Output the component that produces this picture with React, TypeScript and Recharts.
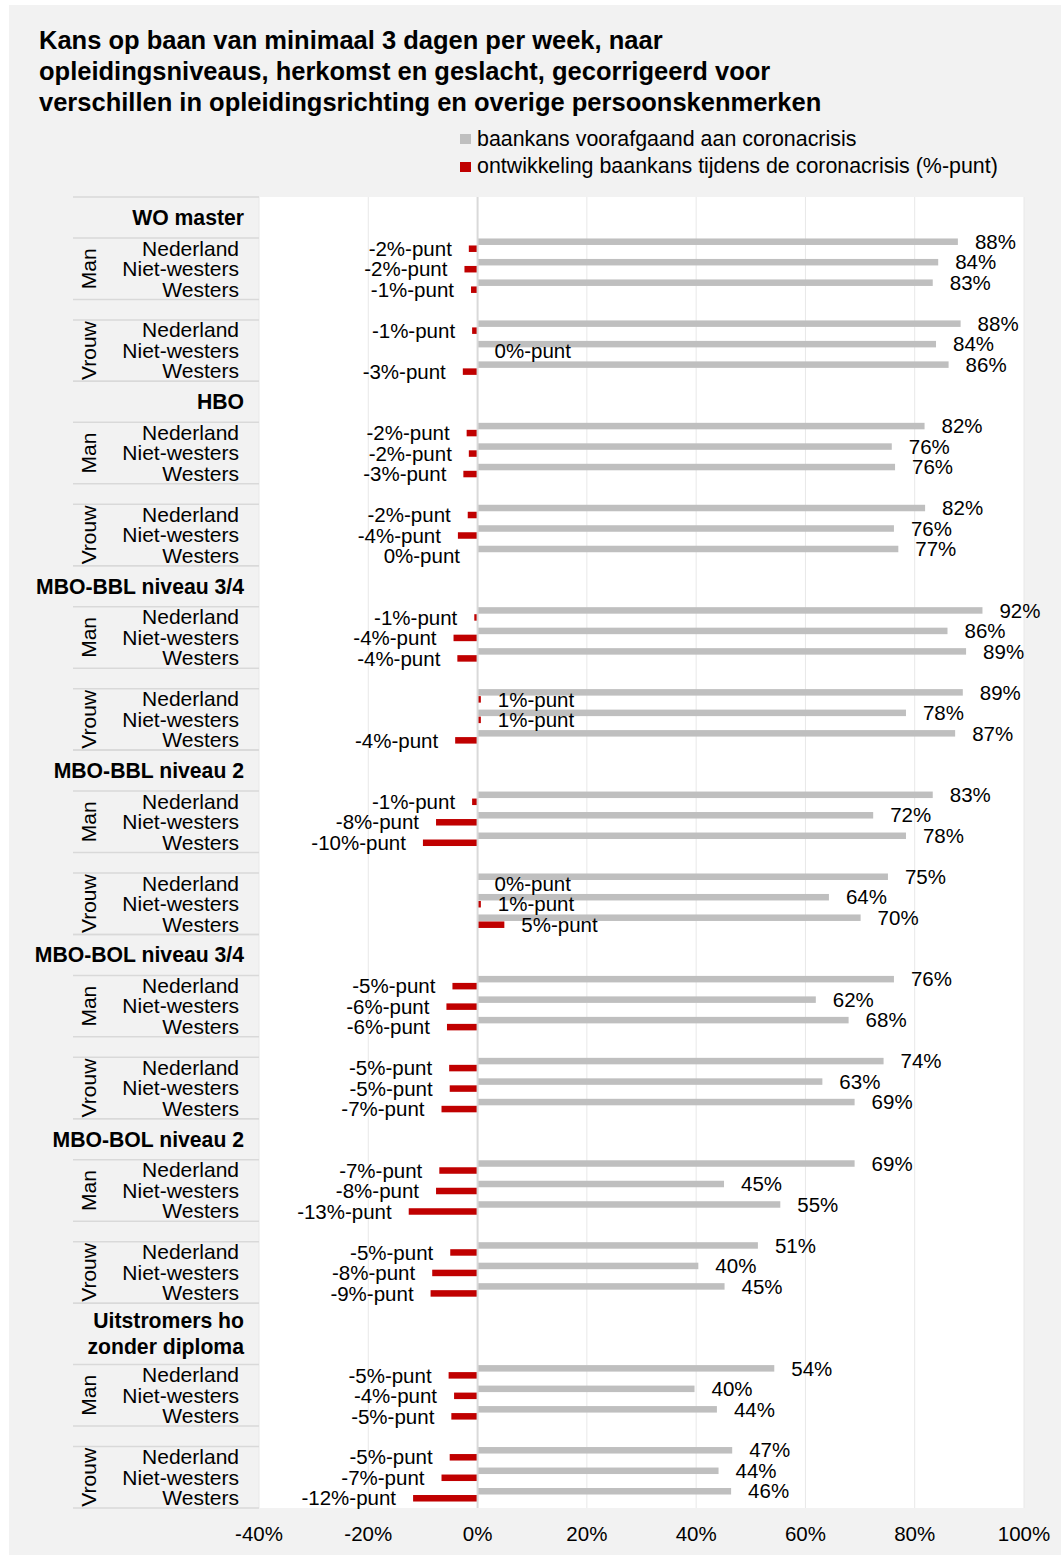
import React from 'react';
import { BarChart, Bar, XAxis, YAxis, CartesianGrid, ReferenceLine } from 'recharts';

// ---------- data ----------
const groupLabels: string[][] = [
  ['WO master'],
  ['HBO'],
  ['MBO-BBL niveau 3/4'],
  ['MBO-BBL niveau 2'],
  ['MBO-BOL niveau 3/4'],
  ['MBO-BOL niveau 2'],
  ['Uitstromers ho', 'zonder diploma'],
];
const genders = ['Man', 'Vrouw'];
const origins = ['Nederland', 'Niet-westers', 'Westers'];
const xTicks = [-40, -20, 0, 20, 40, 60, 80, 100];

// per group: Man (Nederland, Niet-westers, Westers), Vrouw (Nederland, Niet-westers, Westers)
const baankansVoor = [
  87.9, 84.3, 83.3, 88.4, 83.9, 86.2,
  81.8, 75.8, 76.4, 81.9, 76.2, 77.0,
  92.4, 86.0, 89.4, 88.8, 78.4, 87.4,
  83.3, 72.4, 78.4, 75.1, 64.3, 70.1,
  76.2, 61.9, 67.9, 74.3, 63.1, 69.0,
  69.0, 45.1, 55.4, 51.3, 40.4, 45.2,
  54.3, 39.7, 43.8, 46.6, 44.1, 46.4,
];
const ontwikkeling = [
  -1.6, -2.4, -1.2, -1.0, 0, -2.7,
  -2.0, -1.6, -2.6, -1.8, -3.6, -0.1,
  -0.6, -4.4, -3.7, 0.6, 0.6, -4.1,
  -1.0, -7.6, -10.0, 0, 0.6, 4.9,
  -4.6, -5.7, -5.6, -5.2, -5.1, -6.6,
  -7.0, -7.6, -12.6, -5.0, -8.3, -8.6,
  -5.3, -4.3, -4.8, -5.1, -6.6, -11.8,
];

const legendItems = [
  { label: 'baankans voorafgaand aan coronacrisis', color: '#bfbfbf' },
  { label: 'ontwikkeling baankans tijdens de coronacrisis (%-punt)', color: '#c00000' },
];
const titleLines = [
  'Kans op baan van minimaal 3 dagen per week, naar',
  'opleidingsniveaus, herkomst en geslacht, gecorrigeerd voor',
  'verschillen in opleidingsrichting en overige persoonskenmerken',
];

// ---------- rows ----------
type Row = {
  id: string;
  kind: 'head' | 'pad' | 'data' | 'blank';
  g: number;
  lines?: string[];
  slots?: number;
  gender?: number;
  origin?: number;
  voor: number | null;
  delta: number | null;
};
const rows: Row[] = [];
groupLabels.forEach((lines, g) => {
  const slots = lines.length + 1;
  for (let s = 0; s < slots; s++) {
    rows.push({ id: `g${g}h${s}`, kind: s === 0 ? 'head' : 'pad', g, lines, slots, voor: null, delta: null });
  }
  genders.forEach((_, gi) => {
    if (gi > 0) rows.push({ id: `g${g}b${gi}`, kind: 'blank', g, voor: null, delta: null });
    origins.forEach((_o, oi) => {
      const k = g * 6 + gi * 3 + oi;
      rows.push({ id: `g${g}-${gi}-${oi}`, kind: 'data', g, gender: gi, origin: oi, voor: baankansVoor[k], delta: ontwikkeling[k] });
    });
  });
});
const rowById: Record<string, Row> = {};
rows.forEach((r) => (rowById[r.id] = r));

// ---------- layout ----------
const FONT = '"Liberation Sans", Arial, Helvetica, sans-serif';
const CW = 1052;
const CH = 1550;
const M = { top: 192, right: 37, bottom: 0, left: 64 };
const YW = 186;
const XH = 47;
const PLOT_H = CH - M.top - M.bottom - XH;
const BAND = PLOT_H / rows.length;
const SEP_X1 = M.left;
const SEP_X2 = M.left + YW;
const ORIGIN_X = 230;
const HEAD_X = 235;
const GENDER_X = 79.5;
const SHIFT = -2.5;
const LABEL_GAP = 17;
const FS = 20.5;
const AXFS = 21;
const HEADFS = 21.2;
const SEP_COLOR = '#d9d9d9';

function Sep({ y }: { y: number }) {
  return <line x1={SEP_X1} x2={SEP_X2} y1={y} y2={y} stroke={SEP_COLOR} strokeWidth={1.5} />;
}

function YTick(props: any) {
  const { y, payload } = props;
  const row = rowById[payload?.value];
  if (!row) return null;
  const top = y - BAND / 2;
  const bottom = y + BAND / 2;
  if (row.kind === 'head') {
    const n = row.slots || 2;
    const cy = top + (n * BAND) / 2;
    const lines = row.lines || [];
    const lh = 26;
    return (
      <g>
        <Sep y={top} />
        <Sep y={top + n * BAND} />
        {lines.map((l, i) => (
          <text
            key={i}
            x={HEAD_X}
            y={cy + (i - (lines.length - 1) / 2) * lh}
            dy="0.35em"
            textAnchor="end"
            fontSize={HEADFS}
            fontWeight="bold"
            fill="#000"
            fontFamily={FONT}
          >
            {l}
          </text>
        ))}
      </g>
    );
  }
  if (row.kind === 'blank') {
    return <Sep y={bottom} />;
  }
  if (row.kind === 'data') {
    return (
      <g>
        <text x={ORIGIN_X} y={y} dy="0.35em" textAnchor="end" fontSize={AXFS} fill="#000" fontFamily={FONT}>
          {origins[row.origin!]}
        </text>
        {row.origin === 1 && (
          <text
            x={GENDER_X}
            y={y}
            dy="0.35em"
            textAnchor="middle"
            fontSize={AXFS}
            fill="#000"
            fontFamily={FONT}
            transform={`rotate(-90, ${GENDER_X}, ${y})`}
          >
            {genders[row.gender!]}
          </text>
        )}
        {row.origin === 2 && <Sep y={bottom} />}
      </g>
    );
  }
  return null;
}

function makeShape(key: 'voor' | 'delta', suffix: string) {
  return (props: any) => {
    const { x, y, width, height, fill, payload } = props;
    const v = payload ? payload[key] : props.value;
    if (v == null || !isFinite(x) || !isFinite(y)) return <g />;
    const w0 = isFinite(width) ? width : 0;
    const left = Math.min(x, x + w0);
    const right = Math.max(x, x + w0);
    const w = Math.abs(w0);
    const yy = y + SHIFT;
    const cy = yy + height / 2;
    const neg = v < 0;
    const txt = `${Math.round(v)}${suffix}`;
    return (
      <g>
        {w > 0 && <rect x={left} y={yy} width={w} height={height} fill={fill} />}
        <text
          x={neg ? left - LABEL_GAP : right + LABEL_GAP}
          y={cy}
          dy="0.35em"
          textAnchor={neg ? 'end' : 'start'}
          fontSize={FS}
          fill="#000"
          fontFamily={FONT}
        >
          {txt}
        </text>
      </g>
    );
  };
}

const GrayShape = makeShape('voor', '%');
const RedShape = makeShape('delta', '%-punt');

export default function App() {
  return (
    <div
      style={{
        position: 'absolute',
        left: 9,
        top: 5,
        width: CW,
        height: CH,
        background: '#f2f2f2',
        fontFamily: FONT,
        color: '#000',
      }}
    >
      <div style={{ position: 'absolute', left: 30, top: 20, fontSize: 25.5, fontWeight: 'bold', lineHeight: '31px', whiteSpace: 'nowrap' }}>
        {titleLines.map((t, i) => (
          <div key={i}>{t}</div>
        ))}
      </div>
      <div style={{ position: 'absolute', left: 451, top: 120.5 }}>
        {legendItems.map((it, i) => (
          <div key={i} style={{ display: 'flex', alignItems: 'center', height: 27.4, fontSize: 21.4, whiteSpace: 'nowrap' }}>
            <span style={{ display: 'inline-block', width: 11, height: 10, background: it.color, marginRight: 6 }} />
            <span>{it.label}</span>
          </div>
        ))}
      </div>
      <div style={{ position: 'absolute', left: 0, top: 0 }}>
        <BarChart
          width={CW}
          height={CH}
          data={rows}
          layout="vertical"
          margin={M}
          barGap={0.5}
          style={{ fontFamily: FONT }}
        >
          <CartesianGrid horizontal={false} vertical={true} stroke="#e8e8e8" fill="#ffffff" fillOpacity={1} />
          <XAxis
            type="number"
            domain={[-40, 100]}
            ticks={xTicks}
            interval={0}
            tickFormatter={(v: number) => `${v}%`}
            axisLine={false}
            tickLine={false}
            tickSize={0}
            tickMargin={18}
            height={XH}
            tick={{ fill: '#000', fontSize: FS, fontFamily: FONT }}
          />
          <YAxis
            type="category"
            dataKey="id"
            width={YW}
            interval={0}
            axisLine={false}
            tickLine={false}
            tick={<YTick />}
          />
          <ReferenceLine x={0} stroke="#d9d9d9" strokeWidth={2} />
          <Bar dataKey="voor" fill="#bfbfbf" barSize={6.5} isAnimationActive={false} shape={GrayShape} />
          <Bar dataKey="delta" fill="#c00000" barSize={6.5} isAnimationActive={false} shape={RedShape} />
        </BarChart>
      </div>
    </div>
  );
}
